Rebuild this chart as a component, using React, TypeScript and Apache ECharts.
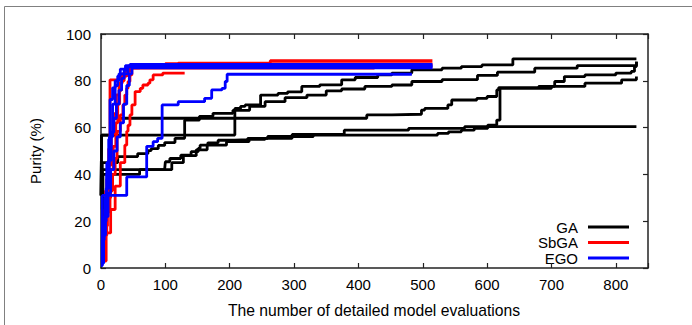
import React, { useEffect, useRef } from "react";
import * as echarts from "echarts";

// x: number of detailed model evaluations, y: purity (%) — step runs
const GA1 = [[0,31],[1,56.8],[208,68.2],[217,69.1],[224,69.7],[248,73.9],[275,74.6],[290,75.3],[312,77.6],[340,78.3],[374,80.4],[395,81.4],[430,82.5],[452,83.3],[483,84.7],[530,85.4],[560,86.1],[592,86.8],[640,89.4],[832,89.7]];
const GA2 = [[0,31],[2,45],[26,47.6],[57,48.9],[73,50.2],[78,51],[89,52.4],[99,53.6],[115,55.4],[130,63.2],[153,64.8],[174,66.1],[205,67.4],[231,69.1],[255,71.1],[286,72.8],[320,73.9],[350,75.7],[374,76.5],[410,77.6],[452,78.2],[483,79.7],[530,80.5],[585,82.3],[616,83.7],[674,85.4],[740,86.5],[832,88]];
const GA3 = [[0,31],[1,56.8],[19,64],[413,65.4],[452,65.7],[498,67.5],[503,68.2],[539,69.7],[545,71.8],[584,72.5],[600,73.3],[615,76.1],[618,77.1],[680,77.6],[705,79.7],[720,81.8],[752,82.5],[800,83.3],[824,84],[829,86.1],[832,88.3]];
const GA4 = [[0,25],[2,42],[99,42.5],[100,45.4],[107,46.8],[124,48.2],[140,49.7],[151,51.1],[154,52.5],[166,53.5],[182,54.6],[208,54.9],[228,55.4],[259,56.2],[330,56.8],[523,57.5],[540,58.2],[560,58.9],[580,59.7],[601,61.1],[615,63.2],[620,76.8],[700,77.6],[752,79],[809,80.4],[832,81.8]];
const GA5 = [[0,20],[3,40],[60,42],[110,45],[128,48],[148,50.5],[165,52.5],[195,54],[230,55],[255,55.4],[297,57.1],[378,58.9],[478,59.7],[565,60.4],[832,60.4]];

const SB1 = [[0,2],[3,12],[6,25],[9,38],[12,51],[14,80.4],[26,80.8],[30,81.8],[36,82.3],[42,86.1],[45,86.8],[120,87.5],[263,88.6],[515,88.6]];
const SB2 = [[0,4],[4,14],[9,24],[14,33],[18,40],[22,46.8],[25,58.4],[30,65.4],[34,69.7],[37,73.9],[40,76.8],[42,79.7],[45,82.5],[48,85.4],[50,86.1],[100,87.3],[515,87.3]];
const SB3 = [[0,3],[8,15],[15,25],[22,35],[30,45],[37,52.5],[40,58.4],[42,61],[45,65.4],[48,69.7],[53,75.4],[61,76.8],[65,78.2],[73,79],[76,80.4],[81,82.5],[96,83.3],[130,83.3]];
const SB4 = [[0,5],[5,18],[10,30],[15,42],[19,52],[23,62],[26,70],[29,76],[32,80],[36,82],[40,84],[45,85.4],[425,85.4]];
const SB5 = [[0,3],[4,20],[7,33],[11,44],[16,57],[20,66],[24,74],[28,79],[33,83],[38,85.5],[60,86.3],[515,86.3]];

const EGO1 = [[0,2],[2,31],[40,38.9],[71,52],[81,54],[88,55.4],[95,69.7],[120,71.1],[161,72.5],[172,76.1],[188,76.8],[193,79.7],[196,82.8],[483,82.8]];
const EGO2 = [[0,3],[3,18],[6,30],[9,45],[12,55],[14,72],[18,77],[22,80],[28,83],[42,86.1],[45,87],[515,87]];
const EGO3 = [[0,2],[4,20],[8,34],[12,46],[16,58],[20,64],[24,70],[28,76],[32,81],[36,84.5],[40,86],[515,86.3]];
const EGO4 = [[0,4],[3,14],[7,22],[11,32],[15,42],[20,50],[25,56],[30,62],[35,70],[40,78],[44,83],[48,85.5],[515,85.6]];
const EGO5 = [[0,1],[2,12],[5,22],[9,40],[13,56],[18,70],[22,78],[26,82],[30,85],[38,86.5],[515,86.8]];

const GA_RUNS = [GA1, GA2, GA3, GA4, GA5];
const SBGA_RUNS = [SB1, SB2, SB3, SB4, SB5];
const EGO_RUNS = [EGO1, EGO2, EGO3, EGO4, EGO5];

const X_TICKS = [0, 100, 200, 300, 400, 500, 600, 700, 800];
const Y_TICKS = [0, 20, 40, 60, 80, 100];
const LEGEND_NAMES = ["GA", "SbGA", "EGO"];
const COLORS: Record<string, string> = { GA: "#000000", SbGA: "#ff0000", EGO: "#0000ff" };

const FONT = '"Liberation Sans", Arial, Helvetica, sans-serif';

export default function App() {
  const ref = useRef<HTMLDivElement>(null);
  useEffect(() => {
    if (!ref.current) return;
    const chart = echarts.init(ref.current, null, { renderer: "svg" });
    const mk = (name: string, runs: number[][][]) =>
      runs.map((d) => ({
        name,
        type: "line",
        step: "end",
        data: d,
        showSymbol: false,
        symbol: "none",
        lineStyle: { color: COLORS[name], width: 2.8 },
        itemStyle: { color: COLORS[name] },
        xAxisIndex: 0,
        yAxisIndex: 0,
      }));
    const axisLine = () => ({ show: true, onZero: false, lineStyle: { color: "#222", width: 1.5 } });
    const axisTick = () => ({ show: true, inside: true, length: 5, lineStyle: { color: "#222", width: 1.2 } });
    const legendY = [227, 242.5, 258];
    const graphic: any[] = [
      { type: "rect", shape: { x: 4.5, y: 6.5, width: 800, height: 400 }, style: { fill: "none", stroke: "#808080", lineWidth: 1 }, silent: true },
      { type: "text", x: 35, y: 151, rotation: Math.PI / 2, style: { text: "Purity (%)", font: `15px ${FONT}`, fill: "#000", align: "center", verticalAlign: "middle" } },
      { type: "text", x: 374, y: 310, style: { text: "The number of detailed model evaluations", font: `15.7px ${FONT}`, fill: "#000", align: "center", verticalAlign: "middle" } },
    ];
    LEGEND_NAMES.forEach((n, i) => {
      graphic.push({ type: "text", x: 578, y: legendY[i], style: { text: n, font: `15px ${FONT}`, fill: "#000", align: "right", verticalAlign: "middle" } });
      graphic.push({ type: "line", shape: { x1: 588, y1: legendY[i], x2: 629, y2: legendY[i] }, style: { stroke: COLORS[n], lineWidth: 3 } });
    });
    chart.setOption({
      animation: false,
      grid: { left: 101, right: 44, top: 34, bottom: 57, containLabel: false },
      xAxis: [
        {
          type: "value", min: 0, max: 850, interval: 100, position: "bottom",
          axisLine: axisLine(), axisTick: axisTick(), splitLine: { show: false },
          axisLabel: { margin: 9, fontSize: 15, fontFamily: FONT, color: "#000", formatter: (v: number) => (X_TICKS.includes(v) ? String(v) : "") },
        },
        {
          type: "value", min: 0, max: 850, interval: 100, position: "top",
          axisLine: axisLine(), axisTick: axisTick(), splitLine: { show: false }, axisLabel: { show: false },
        },
      ],
      yAxis: [
        {
          type: "value", min: 0, max: 100, interval: 20, position: "left",
          axisLine: axisLine(), axisTick: axisTick(), splitLine: { show: false },
          axisLabel: { margin: 10, fontSize: 15, fontFamily: FONT, color: "#000", formatter: (v: number) => (Y_TICKS.includes(v) ? String(v) : "") },
        },
        {
          type: "value", min: 0, max: 100, interval: 20, position: "right",
          axisLine: axisLine(), axisTick: axisTick(), splitLine: { show: false }, axisLabel: { show: false },
        },
      ],
      series: [...mk("GA", GA_RUNS), ...mk("SbGA", SBGA_RUNS), ...mk("EGO", EGO_RUNS)],
      graphic,
    });
    return () => chart.dispose();
  }, []);
  return <div ref={ref} style={{ position: "fixed", left: 0, top: 0, width: 692, height: 325, background: "#fff" }} />;
}
